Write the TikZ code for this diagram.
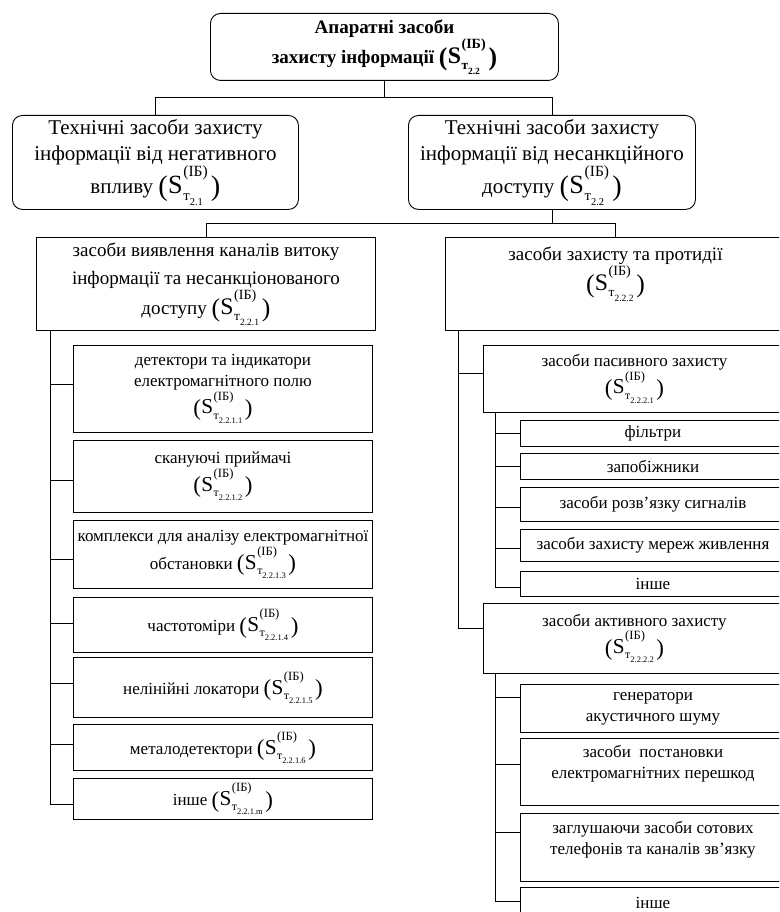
\documentclass[tikz,border=0pt]{standalone}
\usepackage{fontspec}
\usepackage{graphicx}
\setmainfont{Liberation Serif}
\newsavebox\supbox
\newsavebox\subbox
\newcommand{\sib}[1]{\mbox{%
  \sbox\supbox{\scalebox{0.74}{(ІБ)}}%
  \sbox\subbox{\scalebox{0.7}{т}\raisebox{-0.24em}{\scalebox{0.5}{#1}}}%
  \raisebox{-0.1em}{\scalebox{1.35}{(}}\kern0.02em\scalebox{1.25}{S}\kern0.03em%
  \rlap{\raisebox{0.82em}{\usebox\supbox}}%
  \raisebox{-0.31em}{\usebox\subbox}%
  \ifdim\wd\supbox>\wd\subbox\kern\dimexpr\wd\supbox-\wd\subbox\relax\fi
  \kern0.15em\raisebox{-0.1em}{\scalebox{1.35}{)}}}}

\begin{document}
\begin{tikzpicture}[
    x=1pt, y=-1pt, line width=0.9pt,
    box/.style={draw, rectangle, align=center, inner sep=1pt, anchor=north west},
    rbox/.style={box, rounded corners=10pt},
    lvl1/.style={font=\fontsize{19}{29}\selectfont\bfseries},
    lvl2/.style={font=\fontsize{21}{26}\selectfont},
    lvl3/.style={font=\fontsize{19}{28}\selectfont},
    lvl4/.style={font=\fontsize{17}{21}\selectfont}
]
\useasboundingbox (0,0) rectangle (779,912);
\clip (0,0) rectangle (779,912);

% top levels
\node[rbox, lvl1, minimum width=348, minimum height=67] (top) at (210,13)
    {Апаратні засоби\\ захисту інформації \sib{2.2}};
\node[rbox, lvl2, minimum width=286, minimum height=94] (ta) at (12,115)
    {Технічні засоби захисту\\ інформації від негативного\\ впливу \sib{2.1}};
\node[rbox, lvl2, minimum width=287, minimum height=94] (tb) at (408,115)
    {Технічні засоби захисту\\ інформації від несанкційного\\ доступу \sib{2.2}};
\node[box, lvl3, minimum width=339, minimum height=93] (va) at (36,237)
    {засоби виявлення каналів витоку\\ інформації та несанкціонованого\\ доступу \sib{2.2.1}};
\node[box, lvl3, minimum width=340, minimum height=93, text depth=30pt] (vb) at (445,237)
    {засоби захисту та протидії\\ \sib{2.2.2}};

% left column
\node[box, lvl4, minimum width=299, minimum height=87] (d1) at (73,345)
    {детектори та індикатори\\ електромагнітного полю\\ \sib{2.2.1.1}};
\node[box, lvl4, minimum width=299, minimum height=72] (d2) at (73,440)
    {скануючі приймачі\\ \sib{2.2.1.2}};
\node[box, lvl4, minimum width=299, minimum height=68] (d3) at (73,520)
    {комплекси для аналізу електромагнітної\\ обстановки \sib{2.2.1.3}};
\node[box, lvl4, minimum width=299, minimum height=55] (d4) at (73,597) {частотоміри \sib{2.2.1.4}};
\node[box, lvl4, minimum width=299, minimum height=60] (d5) at (73,657) {нелінійні локатори \sib{2.2.1.5}};
\node[box, lvl4, minimum width=299, minimum height=46] (d6) at (73,724) {металодетектори \sib{2.2.1.6}};
\node[box, lvl4, minimum width=299, minimum height=41] (d7) at (73,778) {інше \sib{2.2.1.m}};

% right column
\node[box, lvl4, minimum width=302, minimum height=67] (pas) at (483,345)
    {засоби пасивного захисту\\ \sib{2.2.2.1}};
\node[box, lvl4, minimum width=265, minimum height=26] (f1) at (520,420) {фільтри};
\node[box, lvl4, minimum width=265, minimum height=26] (f2) at (520,453) {запобіжники};
\node[box, lvl4, minimum width=265, minimum height=34] (f3) at (520,487) {засоби розв’язку сигналів};
\node[box, lvl4, minimum width=265, minimum height=32] (f4) at (520,529) {засоби захисту мереж живлення};
\node[box, lvl4, minimum width=265, minimum height=25] (f5) at (520,571) {інше};
\node[box, lvl4, minimum width=302, minimum height=70] (act) at (483,603)
    {засоби активного захисту\\ \sib{2.2.2.2}};
\node[box, lvl4, minimum width=265, minimum height=48] (g1) at (520,684)
    {генератори\\ акустичного шуму};
\node[box, lvl4, minimum width=265, minimum height=67, text depth=20pt] (g2) at (520,738)
    {засоби\ \ постановки\\ електромагнітних перешкод};
\node[box, lvl4, minimum width=265, minimum height=68, text depth=20pt] (g3) at (520,813)
    {заглушаючи засоби сотових\\ телефонів та каналів зв’язку};
\node[box, lvl4, minimum width=265, minimum height=30] (g4) at (520,887) {інше};

% connectors
\draw (top.south) -- ++(0,17) coordinate (j1);
\draw (ta.north) |- (j1) -| (tb.north);
\draw (tb.south) -- ++(0,14) coordinate (j2);
\draw (va.north) |- (j2) -| (vb.north);

\coordinate (lc) at ([xshift=14pt]va.south west);
\draw (lc) |- ([yshift=-5pt]d7.west);
\foreach \n/\s in {d1/5, d2/-4, d3/-5, d4/2, d5/4, d6/3}
    \draw ([yshift=\s pt]\n.west) coordinate (e) -- (e -| lc);

\coordinate (rc) at ([xshift=13pt]vb.south west);
\draw (rc) |- ([yshift=10pt]act.west);
\draw ([yshift=6pt]pas.west) coordinate (e) -- (e -| rc);

\coordinate (pc) at ([xshift=12pt]pas.south west);
\draw (pc) |- ([yshift=-3pt]f5.west);
\foreach \n/\s in {f1/0, f2/0, f3/-3, f4/-3}
    \draw ([yshift=\s pt]\n.west) coordinate (e) -- (e -| pc);

\coordinate (ac) at ([xshift=12pt]act.south west);
\draw (ac) |- ([yshift=1pt]g4.west);
\foreach \n/\s in {g1/11, g2/8, g3/15}
    \draw ([yshift=\s pt]\n.west) coordinate (e) -- (e -| ac);
\end{tikzpicture}
\end{document}
